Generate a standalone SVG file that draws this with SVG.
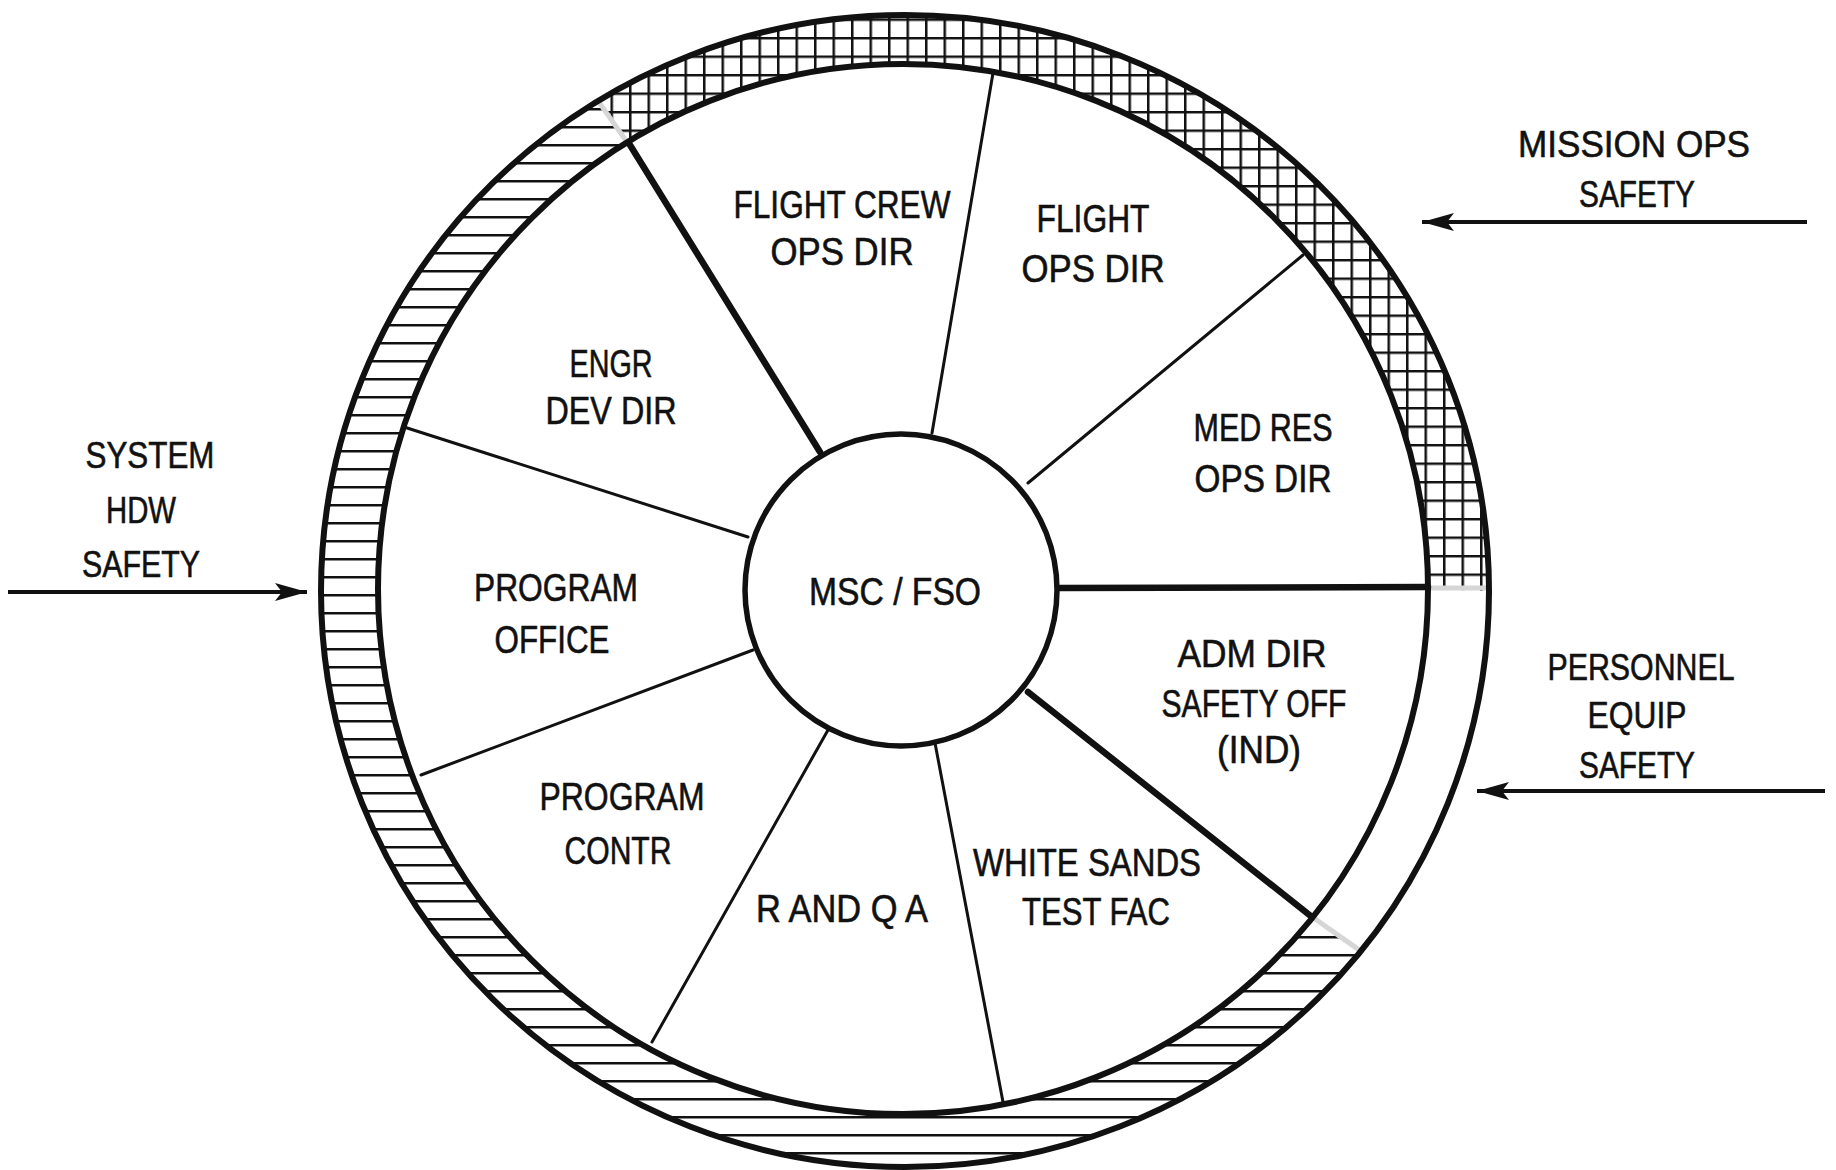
<svg xmlns="http://www.w3.org/2000/svg" width="1836" height="1170" viewBox="0 0 1836 1170">
<style>
  text { font-family: "Liberation Sans", Arial, sans-serif; fill: #111; stroke: #111; stroke-width: 0.6; text-anchor: middle; }
  .in { font-size: 38px; }
  .out { font-size: 37px; }
  .ring { fill: none; stroke: #111; stroke-width: 6; }
  .thick { stroke: #111; stroke-width: 6.5; stroke-linecap: round; }
  .thin { stroke: #111; stroke-width: 3; stroke-linecap: round; }
  .bound { stroke: #d6d6d6; stroke-width: 5; }
  .arrow { stroke: #111; stroke-width: 4; fill: none; marker-end: url(#ah); }
</style>
<defs>
  <pattern id="grid" patternUnits="userSpaceOnUse" width="18.5" height="18.5">
    <path d="M0 1.2 H18.5 M1.2 0 V18.5" stroke="#111" stroke-width="2.6" fill="none"/>
  </pattern>
  <pattern id="stripes" patternUnits="userSpaceOnUse" width="18" height="18">
    <path d="M0 1.2 H18" stroke="#111" stroke-width="2.6" fill="none"/>
  </pattern>
  <marker id="ah" markerUnits="userSpaceOnUse" markerWidth="34" markerHeight="22" refX="32" refY="11" orient="auto">
    <path d="M0 2 L32 11 L0 20 L7 11 Z" fill="#111"/>
  </marker>
</defs>
<rect width="1836" height="1170" fill="#ffffff"/>

<g id="band-mission-ops">
  <path d="M627.1,142.3 L598.1,100.9 A584 576 0 0 1 1489,591 L1428,589 A525 525 0 0 0 627.1,142.3 Z" fill="url(#grid)"/>
</g>
<g id="band-system-hdw">
  <path d="M1312.7,917.2 L1360.8,951.1 A584 576 0 1 1 598.1,100.9 L627.1,142.3 A525 525 0 1 0 1312.7,917.2 Z" fill="url(#stripes)"/>
</g>
<g id="band-personnel">
  <path d="M1428,589 L1489,591 A584 576 0 0 1 1360.8,951.1 L1312.7,917.2 A525 525 0 0 0 1428,589 Z" fill="none"/>
</g>
<g id="band-boundaries">
  <line class="bound" x1="627.1" y1="142.3" x2="598.1" y2="100.9"/>
  <line class="bound" x1="1428" y1="588" x2="1489" y2="588"/>
  <line class="bound" x1="1312.7" y1="917.2" x2="1360.8" y2="951.1"/>
</g>

<g id="rings">
  <ellipse class="ring" cx="905" cy="591" rx="584" ry="576"/>
  <circle class="ring" cx="903" cy="589" r="525"/>
</g>

<g id="dividers">
  <line class="thick" x1="820" y1="452" x2="630" y2="145"/>
  <line class="thin" x1="932" y1="433" x2="993" y2="73"/>
  <line class="thin" x1="1028" y1="483" x2="1303" y2="255"/>
  <line class="thick" x1="1060" y1="588" x2="1428" y2="587"/>
  <line class="thick" x1="1028" y1="692" x2="1312" y2="917"/>
  <line class="thin" x1="935" y1="743" x2="1003" y2="1102"/>
  <line class="thin" x1="828" y1="730" x2="652" y2="1042"/>
  <line class="thin" x1="753" y1="650" x2="421" y2="775"/>
  <line class="thin" x1="748" y1="537" x2="404" y2="427"/>
</g>

<g id="hub">
  <circle cx="901" cy="590" r="156" fill="#fff" stroke="#111" stroke-width="5.5"/>
  <text class="in" x="895" y="605" textLength="172" lengthAdjust="spacingAndGlyphs">MSC / FSO</text>
</g>

<g id="flight-crew-ops-dir">
  <text class="in" x="842" y="218" textLength="217" lengthAdjust="spacingAndGlyphs">FLIGHT CREW</text>
  <text class="in" x="842" y="265" textLength="143" lengthAdjust="spacingAndGlyphs">OPS DIR</text>
</g>
<g id="flight-ops-dir">
  <text class="in" x="1093" y="232" textLength="113" lengthAdjust="spacingAndGlyphs">FLIGHT</text>
  <text class="in" x="1093" y="282" textLength="143" lengthAdjust="spacingAndGlyphs">OPS DIR</text>
</g>
<g id="med-res-ops-dir">
  <text class="in" x="1263" y="441" textLength="139" lengthAdjust="spacingAndGlyphs">MED RES</text>
  <text class="in" x="1263" y="492" textLength="137" lengthAdjust="spacingAndGlyphs">OPS DIR</text>
</g>
<g id="adm-dir-safety-off">
  <text class="in" x="1252" y="667" textLength="149" lengthAdjust="spacingAndGlyphs">ADM DIR</text>
  <text class="in" x="1254" y="717" textLength="185" lengthAdjust="spacingAndGlyphs">SAFETY OFF</text>
  <text class="in" x="1259" y="763" textLength="84" lengthAdjust="spacingAndGlyphs">(IND)</text>
</g>
<g id="white-sands-test-fac">
  <text class="in" x="1087" y="876" textLength="228" lengthAdjust="spacingAndGlyphs">WHITE SANDS</text>
  <text class="in" x="1096" y="925" textLength="148" lengthAdjust="spacingAndGlyphs">TEST FAC</text>
</g>
<g id="r-and-q-a">
  <text class="in" x="842" y="922" textLength="172" lengthAdjust="spacingAndGlyphs">R AND Q A</text>
</g>
<g id="program-contr">
  <text class="in" x="622" y="810" textLength="165" lengthAdjust="spacingAndGlyphs">PROGRAM</text>
  <text class="in" x="618" y="864" textLength="107" lengthAdjust="spacingAndGlyphs">CONTR</text>
</g>
<g id="program-office">
  <text class="in" x="556" y="601" textLength="164" lengthAdjust="spacingAndGlyphs">PROGRAM</text>
  <text class="in" x="552" y="653" textLength="115" lengthAdjust="spacingAndGlyphs">OFFICE</text>
</g>
<g id="engr-dev-dir">
  <text class="in" x="611" y="377" textLength="83" lengthAdjust="spacingAndGlyphs">ENGR</text>
  <text class="in" x="611" y="424" textLength="131" lengthAdjust="spacingAndGlyphs">DEV DIR</text>
</g>

<g id="system-hdw-safety">
  <text class="out" x="150" y="468" textLength="129" lengthAdjust="spacingAndGlyphs">SYSTEM</text>
  <text class="out" x="141" y="523" textLength="70" lengthAdjust="spacingAndGlyphs">HDW</text>
  <text class="out" x="141" y="577" textLength="118" lengthAdjust="spacingAndGlyphs">SAFETY</text>
</g>
<g id="mission-ops-safety">
  <text class="out" x="1634" y="157" textLength="232" lengthAdjust="spacingAndGlyphs">MISSION OPS</text>
  <text class="out" x="1637" y="207" textLength="116" lengthAdjust="spacingAndGlyphs">SAFETY</text>
</g>
<g id="personnel-equip-safety">
  <text class="out" x="1641" y="680" textLength="187" lengthAdjust="spacingAndGlyphs">PERSONNEL</text>
  <text class="out" x="1637" y="728" textLength="99" lengthAdjust="spacingAndGlyphs">EQUIP</text>
  <text class="out" x="1637" y="778" textLength="116" lengthAdjust="spacingAndGlyphs">SAFETY</text>
</g>

<g id="connectors">
  <line class="arrow" x1="8" y1="592" x2="307" y2="592"/>
  <line class="arrow" x1="1807" y1="222" x2="1422" y2="222"/>
  <line class="arrow" x1="1825" y1="791" x2="1477" y2="791"/>
</g>
</svg>
